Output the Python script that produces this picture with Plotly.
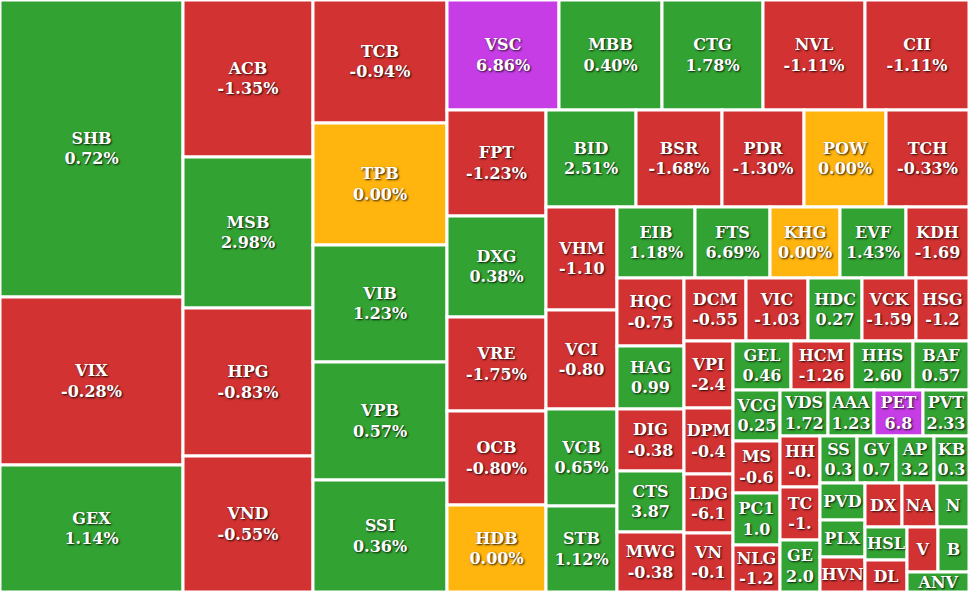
import plotly.graph_objects as go

# Ticker symbols, in the order they are packed
tickers = ["SHB", "VIX", "GEX",
           "ACB", "MSB", "HPG", "VND",
           "TCB", "TPB", "VIB", "VPB", "SSI",
           "VSC", "MBB", "CTG", "NVL", "CII",
           "FPT", "DXG", "VRE", "OCB", "HDB",
           "BID", "BSR", "PDR", "POW", "TCH",
           "VHM", "VCI", "VCB", "STB",
           "EIB", "FTS", "KHG", "EVF", "KDH",
           "HQC", "HAG", "DIG", "CTS", "MWG",
           "DCM", "VIC", "HDC", "VCK", "HSG",
           "VPI", "DPM", "LDG", "VN",
           "GEL", "HCM", "HHS", "BAF",
           "VCG", "MS", "PC1", "NLG",
           "VDS", "AAA", "PET", "PVT",
           "HH", "TC", "GE",
           "SS", "GV", "AP", "KB",
           "PVD", "PLX", "HVN",
           "DX", "NA", "N",
           "HSL", "DL",
           "V", "B",
           "ANV"]

# Traded value (relative tile size)
trade_value = [54351, 30744, 23241,
               20410, 19630, 19240, 17680,
               16482, 16348, 15678, 15812, 15008,
               12320, 11330, 11110, 11220, 11440,
               10494, 9999, 9306, 9306, 8613,
               8730, 8342, 7954, 7954, 8051,
               7313, 7029, 6887, 6106,
               5538, 5325, 4970, 4686, 4473,
               4556, 4221, 4154, 4087, 4020,
               3906, 3906, 3402, 3402, 3339,
               3283, 3234, 2891, 2891,
               2842, 2989, 2989, 2744,
               2397, 2444, 2444, 2209,
               2208, 2116, 2254, 2116,
               2040, 2120, 2080,
               1739, 1833, 1786, 1645,
               1665, 1665, 1575,
               1628, 1540, 1408,
               1386, 1344,
               1395, 1395,
               1240]

# Number of tickers in each successive strip of the heatmap
strip_sizes = [3, 4, 5, 5, 5, 5, 4, 5, 5, 5, 4, 4, 4, 4, 3, 4, 3, 3, 2, 2, 1]

# Price change text as displayed on each tile
change_text = ["0.72%", "-0.28%", "1.14%",
               "-1.35%", "2.98%", "-0.83%", "-0.55%",
               "-0.94%", "0.00%", "1.23%", "0.57%", "0.36%",
               "6.86%", "0.40%", "1.78%", "-1.11%", "-1.11%",
               "-1.23%", "0.38%", "-1.75%", "-0.80%", "0.00%",
               "2.51%", "-1.68%", "-1.30%", "0.00%", "-0.33%",
               "-1.10", "-0.80", "0.65%", "1.12%",
               "1.18%", "6.69%", "0.00%", "1.43%", "-1.69",
               "-0.75", "0.99", "-0.38", "3.87", "-0.38",
               "-0.55", "-1.03", "0.27", "-1.59", "-1.2",
               "-2.4", "-0.4", "-6.1", "-0.1",
               "0.46", "-1.26", "2.60", "0.57",
               "0.25", "-0.6", "1.0", "-1.2",
               "1.72", "1.23", "6.8", "2.33",
               "-0.", "-1.", "2.0",
               "0.3", "0.7", "3.2", "0.3",
               "", "", "",
               "", "", "",
               "", "",
               "", "",
               ""]

# Price status: up / down / ref (unchanged) / ceil (limit up)
status = ["up", "down", "up",
          "down", "up", "down", "down",
          "down", "ref", "up", "up", "up",
          "ceil", "up", "up", "down", "down",
          "down", "up", "down", "down", "ref",
          "up", "down", "down", "ref", "down",
          "down", "down", "up", "up",
          "up", "up", "ref", "up", "down",
          "down", "up", "down", "up", "down",
          "down", "down", "up", "down", "down",
          "down", "down", "down", "down",
          "up", "down", "up", "up",
          "up", "down", "up", "down",
          "up", "up", "ceil", "up",
          "down", "down", "up",
          "up", "up", "up", "up",
          "up", "up", "down",
          "down", "down", "up",
          "up", "down",
          "down", "up",
          "up"]

W, H = 969, 592
palette = {"up": "#32a332", "down": "#d23232", "ref": "#ffb40e", "ceil": "#c63de6"}

# ---- build a strip hierarchy laid out by slice-dice packing ----
ids, labels, parents, values, texts, colors, lwidths = [], [], [], [], [], [], []


def add(node_id, label, parent, value, text, color, lw):
    ids.append(node_id); labels.append(label); parents.append(parent)
    values.append(value); texts.append(text); colors.append(color); lwidths.append(lw)


cur, depth = "", 0          # implicit (undrawn) root at depth 0
rem_w, rem_h = float(W), float(H)
rem_total = float(sum(trade_value))
pos = 0
n_wrap = 0
for k, size in enumerate(strip_sizes):
    items = list(range(pos, pos + size))
    pos += size
    s = sum(trade_value[i] for i in items)
    column = rem_w >= rem_h            # strip runs along the shorter side
    is_dice = (depth % 2 == 0)         # slice-dice: even depth -> dice
    if column != is_dice:
        n_wrap += 1
        wid = f"W{n_wrap}"
        add(wid, "", cur, 0, "", "white", 0)
        cur, depth = wid, depth + 1
    last = (k == len(strip_sizes) - 1)
    if last:
        strip_parent = cur
    else:
        strip_parent = f"S{k}"
        add(strip_parent, "", cur, 0, "", "white", 0)
    for i in items:
        t = f"{tickers[i]}<br>{change_text[i]}" if change_text[i] else tickers[i]
        add(tickers[i], tickers[i], strip_parent, trade_value[i], t,
            palette[status[i]], 3)
    if column:
        rem_w -= rem_w * s / rem_total
    else:
        rem_h -= rem_h * s / rem_total
    rem_total -= s
    if not last:
        nxt = f"R{k + 1}"
        add(nxt, "", cur, 0, "", "white", 0)
        cur, depth = nxt, depth + 1

fig = go.Figure(go.Treemap(
    ids=ids,
    labels=labels,
    parents=parents,
    values=values,
    branchvalues="remainder",
    text=texts,
    textinfo="text",
    textposition="middle center",
    sort=False,
    tiling=dict(packing="slice-dice", pad=0),
    marker=dict(colors=colors,
                line=dict(color=["white"] * len(ids), width=lwidths),
                pad=dict(t=0, l=0, r=0, b=0)),
    pathbar=dict(visible=False),
    root=dict(color="white"),
    textfont=dict(family="DejaVu Serif", size=16, color="white", weight="bold",
                  shadow="1px 1px 2px rgba(0,0,0,0.85)"),
    hoverinfo="skip",
))

fig.update_layout(
    width=W, height=H,
    margin=dict(l=0, r=0, t=0, b=0),
    paper_bgcolor="white",
    uniformtext=dict(minsize=16, mode="show"),
)

fig.write_html("out.html", config={"staticPlot": True})
